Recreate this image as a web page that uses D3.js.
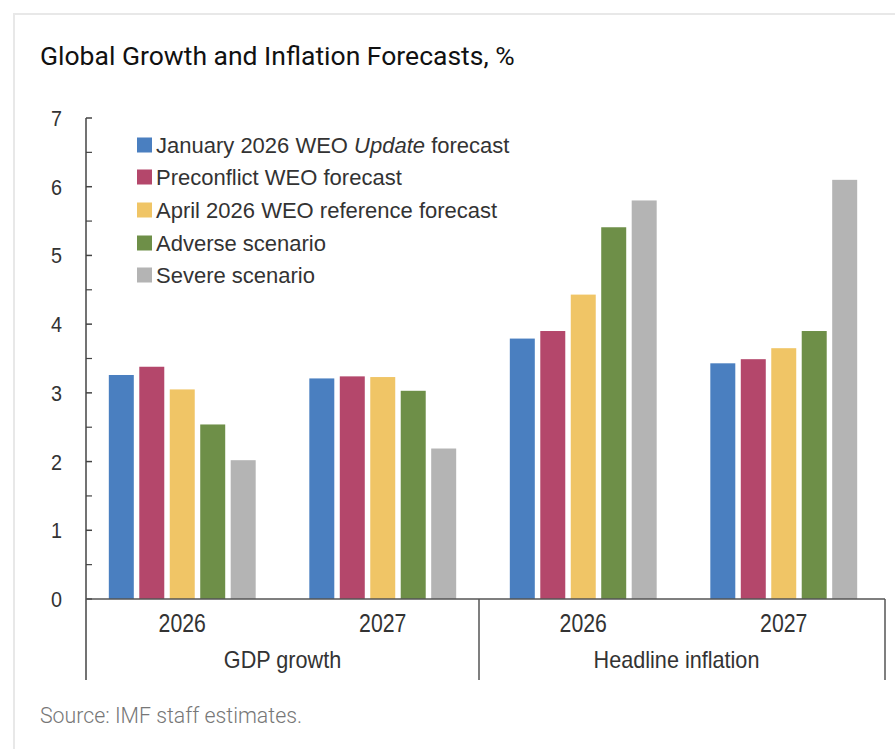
<!DOCTYPE html>
<html>
<head>
<meta charset="utf-8">
<script src="https://cdn.jsdelivr.net/npm/d3@7"></script>
<style>
  html, body { margin: 0; padding: 0; background: #fff; }
  svg { display: block; }
</style>
</head>
<body>
<svg id="chart" width="895" height="749"></svg>
<script>
// Chart data
const groups = ['GDP growth', 'Headline inflation'];
const years = ['2026', '2027'];
const categories = ['GDP growth|2026', 'GDP growth|2027', 'Headline inflation|2026', 'Headline inflation|2027'];
const seriesNames = [
    'January 2026 WEO Update forecast',
    'Preconflict WEO forecast',
    'April 2026 WEO reference forecast',
    'Adverse scenario',
    'Severe scenario'
];
const seriesColors = ['#4a7fc0', '#b4476b', '#f0c566', '#6e8f48', '#b4b4b4'];
const januaryValues = [3.26, 3.21, 3.79, 3.43];
const preconflictValues = [3.38, 3.24, 3.90, 3.49];
const aprilValues = [3.05, 3.23, 4.43, 3.65];
const adverseValues = [2.54, 3.03, 5.41, 3.90];
const severeValues = [2.02, 2.19, 5.80, 6.10];
const yTicks = [0, 1, 2, 3, 4, 5, 6, 7];
const yMinorTicks = [0.5, 1.5, 2.5, 3.5, 4.5, 5.5, 6.5];

const seriesValues = [januaryValues, preconflictValues, aprilValues, adverseValues, severeValues];

const svg = d3.select('#chart');
const axisColor = '#444';
const textColor = '#333';
const chartFont = '"Liberation Sans", Arial, sans-serif';

// card frame
svg.append('line').attr('x1', 13).attr('x2', 895).attr('y1', 14).attr('y2', 14)
    .attr('stroke', '#e8e8e8').attr('stroke-width', 2);
svg.append('line').attr('x1', 14).attr('x2', 14).attr('y1', 14).attr('y2', 749)
    .attr('stroke', '#e8e8e8').attr('stroke-width', 2);

svg.append('text')
    .attr('x', 40).attr('y', 65)
    .text('Global Growth and Inflation Forecasts, %')
    .style('font-family', 'Roboto, sans-serif')
    .style('font-size', '26.5px')
    .style('fill', '#111');

svg.append('text')
    .attr('x', 40).attr('y', 723)
    .text('Source: IMF staff estimates.')
    .style('font-family', 'Roboto, sans-serif')
    .style('font-weight', 300)
    .style('font-size', '21.3px')
    .style('fill', '#777');

const plotLeft = 86, plotRight = 885, plotTop = 118, plotBottom = 599;

const x = d3.scaleBand().domain(categories).range([82, 884]);
const xInner = d3.scaleBand().domain(d3.range(seriesNames.length))
    .range([0, x.bandwidth()]).paddingInner(0.18).paddingOuter(0.88);
const y = d3.scaleLinear().domain([0, 7]).range([plotBottom, plotTop]);

// horizontally condensed text helper (source chart uses a narrow face)
function squeezedText(parent, tx, ty, str, size, k, anchor) {
    return parent.append('text')
        .attr('transform', `translate(${tx},${ty}) scale(${k},1)`)
        .attr('text-anchor', anchor || 'start')
        .text(str)
        .style('font-family', chartFont)
        .style('font-size', size + 'px')
        .style('fill', textColor);
}

// bars
const barLayer = svg.append('g');
seriesValues.forEach((vals, si) => {
    barLayer.selectAll(null)
        .data(vals)
        .enter().append('rect')
        .attr('x', (d, i) => x(categories[i]) + xInner(si))
        .attr('width', xInner.bandwidth())
        .attr('y', d => y(d))
        .attr('height', d => y(0) - y(d))
        .attr('fill', seriesColors[si]);
});

// y axis
const yAxis = svg.append('g');
yAxis.append('line')
    .attr('x1', plotLeft).attr('x2', plotLeft)
    .attr('y1', y(7)).attr('y2', 680)
    .attr('stroke', axisColor).attr('stroke-width', 1.5);
yAxis.selectAll('.major').data(yTicks).enter().append('line')
    .attr('x1', plotLeft).attr('x2', plotLeft + 6)
    .attr('y1', d => y(d)).attr('y2', d => y(d))
    .attr('stroke', axisColor).attr('stroke-width', 1.5);
yAxis.selectAll('.minor').data(yMinorTicks).enter().append('line')
    .attr('x1', plotLeft).attr('x2', plotLeft + 6)
    .attr('y1', d => y(d)).attr('y2', d => y(d))
    .attr('stroke', axisColor).attr('stroke-width', 1.2);
yTicks.forEach(t => {
    squeezedText(yAxis, 62, y(t) + 8, String(t), 22, 0.9, 'end');
});

// x axis line + separators
svg.append('line')
    .attr('x1', plotLeft).attr('x2', plotRight)
    .attr('y1', y(0)).attr('y2', y(0))
    .attr('stroke', '#555').attr('stroke-width', 1.5);
const sepX = [x(categories[2]) - 4, plotRight];
sepX.forEach(sx => {
    svg.append('line')
        .attr('x1', sx).attr('x2', sx)
        .attr('y1', y(0)).attr('y2', 680)
        .attr('stroke', '#555').attr('stroke-width', 1.5);
});

// category labels
categories.forEach((c, i) => {
    squeezedText(svg, x(c) + x.bandwidth() / 2, 632, years[i % 2], 25, 0.85, 'middle');
});
const groupShift = [0, -7];
groups.forEach((g, gi) => {
    const c0 = categories[gi * 2], c1 = categories[gi * 2 + 1];
    const cx = (x(c0) + x(c1) + x.bandwidth()) / 2 + groupShift[gi];
    squeezedText(svg, cx, 668, g, 23, 0.94, 'middle');
});

// legend
const legend = svg.append('g');
const legendRowY = [145, 177, 210, 243, 275];
seriesNames.forEach((name, i) => {
    legend.append('rect')
        .attr('x', 137).attr('y', legendRowY[i] - 7.5)
        .attr('width', 15).attr('height', 15)
        .attr('fill', seriesColors[i]);
    const t = squeezedText(legend, 156, legendRowY[i] + 8, '', 22, 1.0, 'start');
    if (i === 0) {
        t.append('tspan').text('January 2026 WEO ');
        t.append('tspan').style('font-style', 'italic').text('Update');
        t.append('tspan').text(' forecast');
    } else {
        t.text(name);
    }
});
</script>
</body>
</html>
